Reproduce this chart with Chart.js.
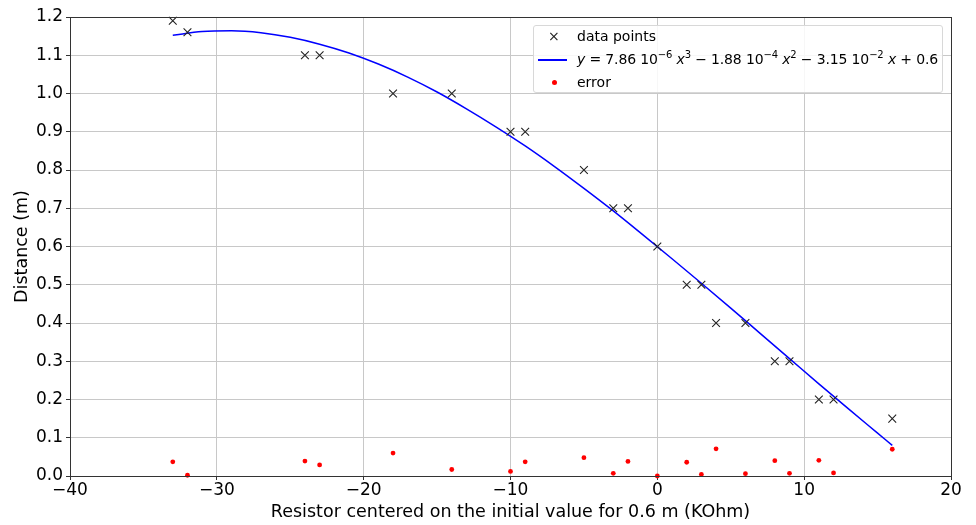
<!DOCTYPE html>
<html>
<head>
<meta charset="utf-8">
<script src="https://cdn.jsdelivr.net/npm/chart.js@4"></script>
<style>
  body { margin: 0; background: #fff; }
  #wrap { position: relative; width: 976px; height: 525px; }
  #legend {
    position: absolute; left: 533px; top: 25px; width: 408px; height: 66px;
    border: 1px solid #d8d8d8; border-radius: 3px; background: rgba(255,255,255,0.85);
    font-family: "DejaVu Sans", sans-serif; font-size: 14px; color: #000;
  }
  .row { position: absolute; left: 0; height: 20px; line-height: 20px; white-space: nowrap; }
  .row .lbl { position: absolute; left: 43px; }
  .mk-x { position: absolute; left: 14px; top: 0px; font-size: 14px; color: #222; }
  .mk-line { position: absolute; left: 4px; top: 10px; width: 29px; height: 1.5px; background: #0000ff; }
  .mk-dot { position: absolute; left: 18px; top: 8px; width: 5px; height: 5px; border-radius: 50%; background: #ff0000; }
  sup { font-size: 10px; vertical-align: 6px; line-height: 0; }
  i { font-style: oblique; }
  .math { letter-spacing: -0.15px; }
</style>
</head>
<body>
<div id="wrap">
  <canvas id="chart" width="976" height="525"></canvas>
  <div id="legend">
    <div class="row" style="top:0px"><span class="mk-x">&#215;</span><span class="lbl">data points</span></div>
    <div class="row" style="top:23px"><span class="mk-line"></span><span class="lbl math"><i>y</i> = 7.86 10<sup>&#8722;6</sup> <i>x</i><sup>3</sup> &#8722; 1.88 10<sup>&#8722;4</sup> <i>x</i><sup>2</sup> &#8722; 3.15 10<sup>&#8722;2</sup> <i>x</i> + 0.6</span></div>
    <div class="row" style="top:46px"><span class="mk-dot"></span><span class="lbl">error</span></div>
  </div>
</div>
<script>
// measured points
const resistorX = [-33, -32, -24, -23, -18, -14, -10, -9, -5, -3, -2, 0, 2, 3, 4, 6, 8, 9, 11, 12, 16];
const distance = [1.19, 1.16, 1.1, 1.1, 1.0, 1.0, 0.9, 0.9, 0.8, 0.7, 0.7, 0.6, 0.5, 0.5, 0.4, 0.4, 0.3, 0.3, 0.2, 0.2, 0.15];
const errorVals = [0.037, 0.002, 0.039, 0.029, 0.060, 0.017, 0.012, 0.037, 0.048, 0.007, 0.038, 0.0, 0.036, 0.004, 0.071, 0.006, 0.040, 0.007, 0.041, 0.008, 0.070];

// fitted curve read along its length
const fitX = [-33, -31, -29, -27, -25, -23, -21, -19, -17, -15, -13, -11, -9, -7, -5, -3, -1, 1, 3, 5, 7, 9, 11, 13, 15, 16];
const fitY = [1.152, 1.162, 1.164, 1.159, 1.147, 1.129, 1.106, 1.077, 1.043, 1.004, 0.960, 0.913, 0.863, 0.809, 0.752, 0.693, 0.631, 0.568, 0.504, 0.439, 0.373, 0.307, 0.241, 0.176, 0.112, 0.080];

const xTicks = [-40, -30, -20, -10, 0, 10, 20];

const tickFont = { family: 'DejaVu Sans', size: 17 };
const titleFont = { family: 'DejaVu Sans', size: 17.5 };

const frame = {
    id: 'frame',
    afterDraw(chart) {
        const a = chart.chartArea;
        const ctx = chart.ctx;
        ctx.save();
        ctx.strokeStyle = '#333';
        ctx.lineWidth = 1;
        ctx.strokeRect(Math.round(a.left) + 0.5, Math.round(a.top) + 0.5, Math.round(a.right - a.left), Math.round(a.bottom - a.top));
        ctx.restore();
    }
};

new Chart(document.getElementById('chart'), {
    type: 'scatter',
    data: {
        datasets: [
            {
                label: 'data points',
                data: resistorX.map((x, i) => ({ x: x, y: distance[i] })),
                pointStyle: 'crossRot',
                pointRadius: 5.5,
                borderColor: '#222',
                borderWidth: 1.1,
                order: 1
            },
            {
                label: 'fit',
                type: 'line',
                data: fitX.map((x, i) => ({ x: x, y: fitY[i] })),
                borderColor: '#0000ff',
                borderWidth: 1.5,
                pointRadius: 0,
                cubicInterpolationMode: 'monotone',
                fill: false,
                order: 2
            },
            {
                label: 'error',
                data: resistorX.map((x, i) => ({ x: x, y: errorVals[i] })),
                pointStyle: 'circle',
                pointRadius: 2.4,
                backgroundColor: '#ff0000',
                borderColor: '#ff0000',
                borderWidth: 0,
                order: 0
            }
        ]
    },
    options: {
        responsive: false,
        animation: false,
        clip: false,
        layout: { padding: { top: 17, right: 25, left: 0, bottom: 0 } },
        plugins: {
            legend: { display: false },
            tooltip: { enabled: false }
        },
        scales: {
            x: {
                type: 'linear',
                min: -40,
                max: 20,
                afterBuildTicks: axis => { axis.ticks = xTicks.map(v => ({ value: v })); },
                afterFit: axis => { axis.height = 49; },
                ticks: {
                    font: tickFont,
                    color: '#000',
                    padding: 0,
                    maxRotation: 0,
                    callback: v => String(v).replace('-', '\u2212')
                },
                grid: { color: '#c8c8c8', tickColor: '#333', tickLength: 4, lineWidth: 1 },
                border: { display: false },
                title: {
                    display: true,
                    text: 'Resistor centered on the initial value for 0.6 m (KOhm)',
                    font: titleFont,
                    color: '#000',
                    padding: { top: 0, bottom: 2 }
                }
            },
            y: {
                min: 0,
                max: 1.2,
                afterFit: axis => { axis.width = 70; },
                ticks: {
                    stepSize: 0.1,
                    font: tickFont,
                    color: '#000',
                    padding: 3,
                    callback: v => v.toFixed(1)
                },
                grid: { color: '#c8c8c8', tickColor: '#333', tickLength: 4, lineWidth: 1 },
                border: { display: false },
                title: {
                    display: true,
                    text: 'Distance (m)',
                    font: titleFont,
                    color: '#000',
                    padding: { top: 12, bottom: 0 }
                }
            }
        }
    },
    plugins: [frame]
});
</script>
</body>
</html>
